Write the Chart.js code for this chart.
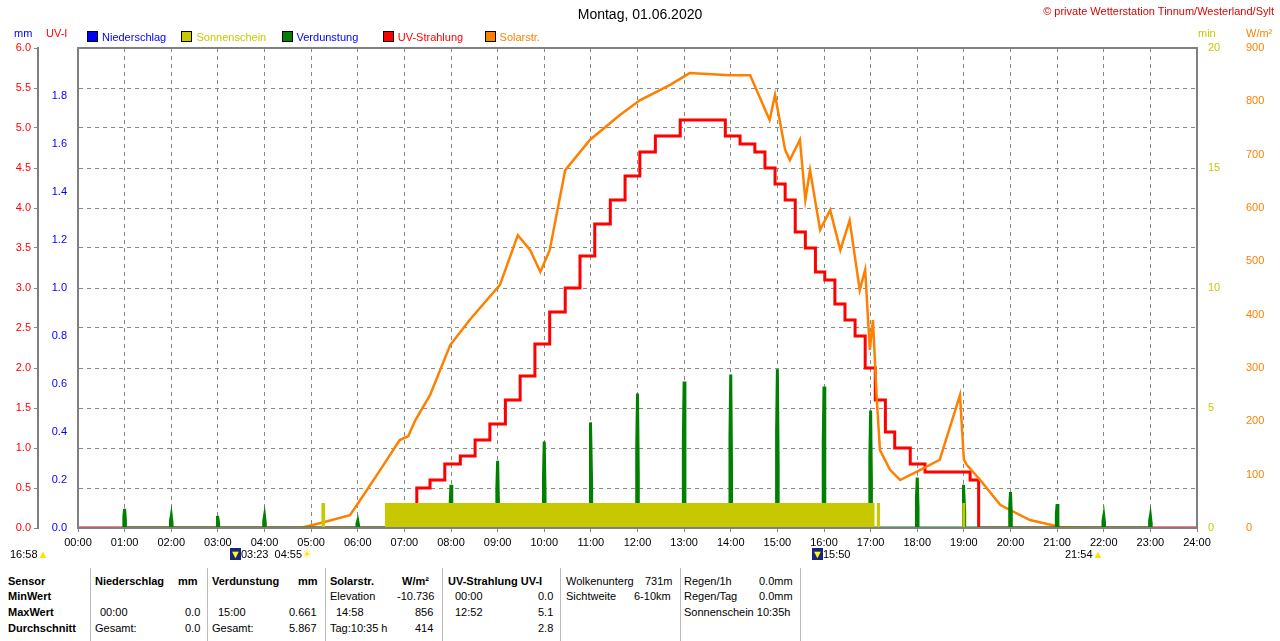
<!DOCTYPE html>
<html><head><meta charset="utf-8">
<script src="https://cdn.jsdelivr.net/npm/chart.js@4.4.1/dist/chart.umd.min.js"></script>
<style>
body{margin:0;background:#fff;font-family:"Liberation Sans",Arial,sans-serif;font-size:11px;width:1280px;height:641px;overflow:hidden;position:relative}
.t{position:absolute;white-space:nowrap}
#wrap{position:absolute;left:0;top:0;width:1280px;height:560px}
.sep{position:absolute;top:568px;height:73px;border-left:1px solid #bbb}
b{font-weight:bold}
.lg{display:inline-block;width:9px;height:9px;border:1px solid #000;margin-right:4px;vertical-align:-1px}
</style></head><body>
<div id="wrap"><canvas id="c" width="1280" height="560"></canvas></div>
<div class="t" style="left:0;width:1280px;text-align:center;top:6px;font-size:14px">Montag, 01.06.2020</div>
<div class="t" style="right:6px;top:5px;color:#e00000;font-size:11px">© private Wetterstation Tinnum/Westerland/Sylt</div>
<div class="t" style="left:14px;top:27px;color:#0000ff">mm</div>
<div class="t" style="left:46px;top:27px;color:#ff0000">UV-I</div>
<div class="t" style="left:1198px;top:27px;color:#c8c800">min</div>
<div class="t" style="left:1246px;top:27px;color:#ff8000">W/m²</div>
<div class="t" style="left:87px;top:31px">
<span style="color:#0000ff"><span class="lg" style="background:#0000ff"></span>Niederschlag</span>&nbsp;&nbsp;&nbsp;&nbsp;
<span style="color:#c8c800"><span class="lg" style="background:#c8c800"></span>Sonnenschein</span>&nbsp;&nbsp;&nbsp;&nbsp;
<span style="color:#0000ff"><span class="lg" style="background:#008000"></span>Verdunstung</span>&nbsp;&nbsp;&nbsp;&nbsp;&nbsp;&nbsp;&nbsp;
<span style="color:#ff0000"><span class="lg" style="background:#ff0000"></span>UV-Strahlung</span>&nbsp;&nbsp;&nbsp;&nbsp;&nbsp;&nbsp;
<span style="color:#ff8000"><span class="lg" style="background:#ff8000"></span>Solarstr.</span>
</div>
<div class="t" style="left:10px;top:548px">16:58<span style="color:#ffe000">▲</span></div>
<div class="t" style="left:230px;top:548px"><span style="background:#1a237e;color:#ff0">▼</span>03:23&nbsp; 04:55<span style="color:#ffe000">☀</span></div>
<div class="t" style="left:812px;top:548px"><span style="background:#1a237e;color:#ff0">▼</span>15:50</div>
<div class="t" style="left:1065px;top:548px">21:54<span style="color:#ffe000">▲</span></div>
<div id="foot"></div>
<script>
// Zeit in Minuten seit 00:00
const solarT = [286,311,350,363,389,414,425,434,453,479,504,543,566,582,595,607,627,659,697,723,762,787,839,865,890,897,910,916,929,936,942,955,968,981,993,1006,1013,1019,1023,1028,1032,1045,1058,1084,1109,1135,1140,1144,1161,1187,1225,1264,1302];
const solarV = [0,9,24,52,109,165,172,202,249,343,390,456,549,521,480,521,671,728,774,802,831,853,849,849,765,812,709,690,728,615,671,559,596,521,577,446,484,334,390,240,146,109,90,109,128,249,128,118,90,43,15,2,0];
const uvT = [0,435,436,453,472,492,511,530,550,569,588,607,627,646,665,685,704,723,743,775,813,833,852,871,884,897,910,923,936,949,961,974,987,1000,1013,1026,1039,1051,1071,1090,1135,1148,1158,1159,1440];
const uvV = [0,0,0.5,0.6,0.8,0.9,1.1,1.3,1.6,1.9,2.3,2.7,3.0,3.4,3.8,4.1,4.4,4.7,4.9,5.1,5.1,4.9,4.8,4.7,4.5,4.3,4.1,3.7,3.5,3.2,3.1,2.8,2.6,2.4,2.0,1.6,1.2,1.0,0.8,0.7,0.7,0.6,0.6,0,0];
const sunT = [313,313,318,318,395,395,1025,1025,1028,1028,1032,1032,1138,1138,1142,1142];
const sunV = [0,1.04,1.04,0,0,1.04,1.04,0,0,1.04,1.04,0,0,1.04,1.04,0];
const evapH = [1,2,3,4,6,7,8,9,10,11,12,13,14,15,16,17,18,19,20,21,22,23];
const evapV = [0.08,0.05,0.05,0.05,0.03,0.075,0.18,0.28,0.36,0.44,0.56,0.61,0.64,0.661,0.59,0.49,0.21,0.18,0.15,0.1,0.05,0.05];
const hourLabels = Array.from({length:25},(_, i)=>String(i).padStart(2,'0')+':00');

const xy = (ts, vs) => ts.map((t, i) => ({x: t, y: vs[i]}));
const evapPts = [];
evapH.forEach((h, i) => { const t = h*60; evapPts.push({x:t-1,y:0},{x:t-1,y:evapV[i]*0.6},{x:t,y:evapV[i]},{x:t+1,y:evapV[i]*0.4},{x:t+1,y:0}); });

const fit = w => function(s){ s.width = w; };
const frame = {
  id:'frame',
  afterDatasetsDraw(chart){
    const a = chart.chartArea, c = chart.ctx;
    c.save(); c.strokeStyle = '#808080'; c.lineWidth = 2;
    c.strokeRect(a.left, a.top, a.right-a.left, a.bottom-a.top);
    c.restore();
  }
};
new Chart(document.getElementById('c'), {
  type: 'line',
  data: { datasets: [
    {data: xy(sunT, sunV), yAxisID:'yMin', borderWidth:0, backgroundColor:'#c8c800', fill:'origin', pointRadius:0},
    {data: evapPts, yAxisID:'yMm', borderColor:'#008000', borderWidth:3, pointRadius:0},
    {data: xy(solarT, solarV), yAxisID:'yW', borderColor:'#ff8000', borderWidth:2.5, pointRadius:0},
    {data: xy(uvT, uvV), yAxisID:'yUv', borderColor:'#ff0000', borderWidth:3, pointRadius:0, stepped:true},
  ]},
  plugins:[frame],
  options: {
    animation:false, responsive:false, devicePixelRatio:1,
    layout:{padding:{top:48,right:0}},
    plugins:{legend:{display:false}, tooltip:{enabled:false}},
    scales:{
      x:{type:'linear', min:0, max:1440, afterFit(s){s.height=32;},
        afterBuildTicks(s){s.ticks = hourLabels.map((l,i)=>({value:i*60}));},
        ticks:{callback:(v)=>hourLabels[v/60], color:'#000', font:{size:11}, maxRotation:0, autoSkip:false, padding:4},
        grid:{color:'#888', tickLength:4}, border:{color:'#808080', width:2, dash:[4,4]}},
      yMm:{position:'left', min:0, max:2, afterFit:fit(40),
        ticks:{stepSize:0.2, color:'#0000ff', font:{size:11}, callback:v=>v>=1.99?'':v.toFixed(1)},
        grid:{display:false}, border:{display:false}},
      yUv:{position:'left', min:0, max:6, afterFit:fit(38),
        ticks:{stepSize:0.5, color:'#ff0000', font:{size:11}, callback:v=>v.toFixed(1)},
        grid:{color:'#888', tickLength:4}, border:{color:'#808080', width:2, dash:[4,4]}},
      yMin:{position:'right', min:0, max:20, afterFit:fit(38),
        ticks:{stepSize:5, color:'#c8c800', font:{size:11}},
        grid:{display:false}, border:{color:'#808080', width:2}},
      yW:{position:'right', min:0, max:900, afterFit:fit(45),
        ticks:{stepSize:100, color:'#ff8000', font:{size:11}},
        grid:{display:false}, border:{display:false}}
    }
  }
});

// Tabelle unten
const rows = [582,597,613,629].map(y=>y-7);
const cells = [
  [8,0,'<b>Sensor</b>'],[8,1,'<b>MinWert</b>'],[8,2,'<b>MaxWert</b>'],[8,3,'<b>Durchschnitt</b>'],
  [95,0,'<b>Niederschlag</b>'],[178,0,'<b>mm</b>'],[100,2,'00:00'],[185,2,'0.0'],[95,3,'Gesamt:'],[185,3,'0.0'],
  [212,0,'<b>Verdunstung</b>'],[298,0,'<b>mm</b>'],[218,2,'15:00'],[289,2,'0.661'],[212,3,'Gesamt:'],[289,3,'5.867'],
  [330,0,'<b>Solarstr.</b>'],[402,0,'<b>W/m²</b>'],[330,1,'Elevation'],[397,1,'-10.736'],[336,2,'14:58'],[415,2,'856'],[330,3,'Tag:10:35 h'],[415,3,'414'],
  [448,0,'<b>UV-Strahlung UV-I</b>'],[455,1,'00:00'],[538,1,'0.0'],[455,2,'12:52'],[538,2,'5.1'],[538,3,'2.8'],
  [566,0,'Wolkenunterg'],[645,0,'731m'],[566,1,'Sichtweite'],[634,1,'6-10km'],
  [684,0,'Regen/1h'],[759,0,'0.0mm'],[684,1,'Regen/Tag'],[759,1,'0.0mm'],[684,2,'Sonnenschein 10:35h']
];
const foot = document.getElementById('foot');
let html = '';
cells.forEach(([x,r,s]) => { html += `<div class="t" style="left:${x}px;top:${rows[r]}px">${s}</div>`; });
[90,207,325,442,560,680,800].forEach(x => { html += `<div class="sep" style="left:${x}px"></div>`; });
foot.innerHTML = html;
</script>
</body></html>
